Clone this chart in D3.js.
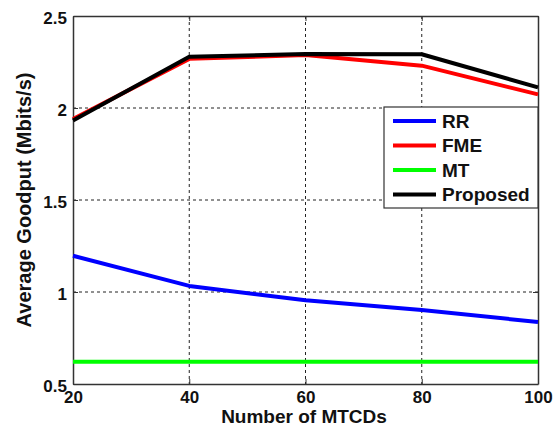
<!DOCTYPE html>
<html>
<head>
<meta charset="utf-8">
<script src="https://cdn.jsdelivr.net/npm/d3@7"></script>
<style>
  body { margin: 0; background: #fff; }
  svg text { font-family: "Liberation Sans", Arial, sans-serif; font-weight: bold; fill: #111; }
</style>
</head>
<body>
<div id="chart"></div>
<script>
// --------------------------------------
//  Data
// --------------------------------------

const mtcds = [20, 40, 60, 80, 100];
const rr = [1.197, 1.033, 0.955, 0.902, 0.837];
const fme = [1.94, 2.267, 2.288, 2.23, 2.074];
const mt = [0.621, 0.621, 0.621, 0.621, 0.621];
const proposed = [1.932, 2.279, 2.293, 2.292, 2.112];
const yTicks = [0.5, 1, 1.5, 2, 2.5];

const series = [
  { name: "RR", ys: rr, color: "#0000ff" },
  { name: "FME", ys: fme, color: "#ff0000" },
  { name: "MT", ys: mt, color: "#00ff00" },
  { name: "Proposed", ys: proposed, color: "#000000" }
];

// --------------------------------------
//  Canvas
// --------------------------------------

const width = 559, height = 430;
const margin = { top: 16, right: 21, bottom: 46, left: 73 };
const innerwidth = width - margin.left - margin.right;
const innerheight = height - margin.top - margin.bottom;

const svg = d3.select("#chart")
  .append("svg")
    .attr("width", width)
    .attr("height", height);

const inner = svg.append("g")
    .attr("transform", `translate(${margin.left}, ${margin.top})`);

// --------------------------------------
//  Scales
// --------------------------------------

const x = d3.scaleLinear().domain([20, 100]).range([0, innerwidth]);
const y = d3.scaleLinear().domain([0.5, 2.5]).range([innerheight, 0]);

// --------------------------------------
//  Grid
// --------------------------------------

inner.append("g")
  .selectAll("line")
  .data(mtcds.slice(1, -1))
  .join("line")
    .attr("x1", d => x(d)).attr("x2", d => x(d))
    .attr("y1", 0).attr("y2", innerheight)
    .attr("stroke", "#222").attr("stroke-width", 1)
    .attr("stroke-dasharray", "3,3");

inner.append("g")
  .selectAll("line")
  .data(yTicks.slice(1, -1))
  .join("line")
    .attr("x1", 0).attr("x2", innerwidth)
    .attr("y1", d => y(d)).attr("y2", d => y(d))
    .attr("stroke", "#222").attr("stroke-width", 1)
    .attr("stroke-dasharray", "3,3");

// --------------------------------------
//  Axes
// --------------------------------------

const xAxis = inner.append("g")
    .attr("transform", `translate(0, ${innerheight})`)
    .call(d3.axisBottom(x).tickValues(mtcds).tickSizeInner(-5).tickSizeOuter(0).tickPadding(7));

const yAxis = inner.append("g")
    .call(d3.axisLeft(y).tickValues(yTicks).tickFormat(d3.format("")).tickSizeInner(-5).tickSizeOuter(0).tickPadding(6));

inner.append("g")
    .call(d3.axisTop(x).tickValues(mtcds).tickSizeInner(-5).tickSizeOuter(0).tickFormat(""));

inner.append("g")
    .attr("transform", `translate(${innerwidth}, 0)`)
    .call(d3.axisRight(y).tickValues(yTicks).tickSizeInner(-5).tickSizeOuter(0).tickFormat(""));

inner.selectAll(".domain").attr("stroke", "#333").attr("stroke-width", 1.5);
inner.selectAll(".tick line").attr("stroke", "#333");
xAxis.selectAll("text").style("font-size", "17px").attr("fill", "#111");
yAxis.selectAll("text").style("font-size", "17px").attr("fill", "#111").attr("dy", "0.45em");

// --------------------------------------
//  Lines
// --------------------------------------

const line = d3.line().x(d => x(d[0])).y(d => y(d[1]));

inner.selectAll(".series")
  .data(series)
  .join("path")
    .attr("class", "series")
    .attr("fill", "none")
    .attr("stroke", d => d.color)
    .attr("stroke-width", 4)
    .attr("stroke-linejoin", "round")
    .attr("d", d => line(mtcds.map((v, i) => [v, d.ys[i]])));

// --------------------------------------
//  Legend
// --------------------------------------

const legend = svg.append("g").attr("transform", "translate(384, 107)");

legend.append("rect")
    .attr("width", 154).attr("height", 101)
    .attr("fill", "#fff").attr("stroke", "#333").attr("stroke-width", 1.2);

const items = legend.selectAll(".item")
  .data(series)
  .join("g")
    .attr("class", "item")
    .attr("transform", (d, i) => `translate(0, ${14 + i * 24.5})`);

items.append("line")
    .attr("x1", 9).attr("x2", 52)
    .attr("stroke", d => d.color).attr("stroke-width", 4);

items.append("text")
    .attr("x", 58).attr("dy", "0.36em")
    .style("font-size", "19px")
    .text(d => d.name);

// --------------------------------------
//  Titles
// --------------------------------------

svg.append("text")
    .attr("x", 304)
    .attr("y", 423)
    .attr("text-anchor", "middle")
    .style("font-size", "19px")
    .text("Number of MTCDs");

svg.append("text")
    .attr("transform", `translate(31, ${margin.top + innerheight / 2}) rotate(-90)`)
    .attr("text-anchor", "middle")
    .style("font-size", "20px")
    .text("Average Goodput (Mbits/s)");
</script>
</body>
</html>
